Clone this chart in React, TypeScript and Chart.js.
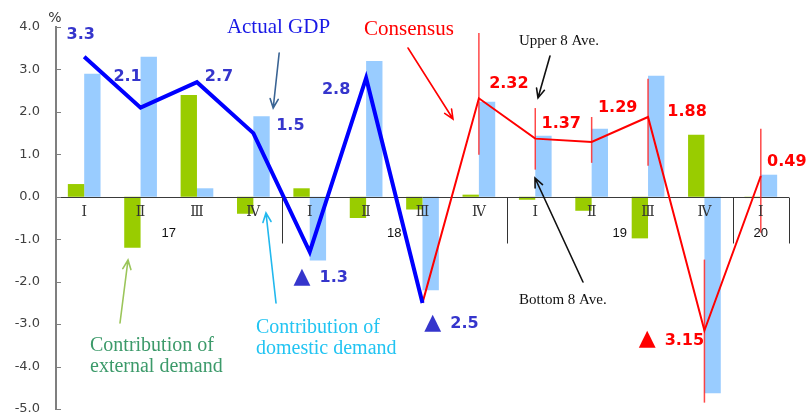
import React, { useEffect, useRef } from 'react';
import { Chart, registerables } from 'chart.js';

Chart.register(...registerables);

// ---------- data ----------
const quarters = ['Ⅰ', 'Ⅱ', 'Ⅲ', 'Ⅳ', 'Ⅰ', 'Ⅱ', 'Ⅲ', 'Ⅳ', 'Ⅰ', 'Ⅱ', 'Ⅲ', 'Ⅳ', 'Ⅰ'];
const years = ['17', '18', '19', '20'];
const quartersPerYear = [4, 4, 4, 1];

const externalDemand = [0.3, -1.2, 2.4, -0.4, 0.2, -0.5, -0.3, 0.05, -0.07, -0.33, -0.98, 1.46, -0.03];
const domesticDemand = [2.9, 3.3, 0.2, 1.9, -1.5, 3.2, -2.2, 2.24, 1.44, 1.6, 2.85, -4.63, 0.52];
const actualGDP = [3.3, 2.1, 2.7, 1.5, -1.3, 2.8, -2.5, null, null, null, null, null, null];
const consensus = [null, null, null, null, null, null, -2.5, 2.32, 1.37, 1.29, 1.88, -3.15, 0.49];
const upper8Ave = [null, null, null, null, null, null, null, 3.86, 2.09, 1.88, 2.78, -1.48, 1.6];
const bottom8Ave = [null, null, null, null, null, null, null, 0.99, 0.64, 0.8, 0.73, -4.85, -0.85];

const yMin = -5;
const yMax = 4;
const yStep = 1;

// ---------- styles (pixel offsets of value labels from their points) ----------
const gdpLabelOffsets: [number, number][] = [
  [-3.5, -22], [-13, -31], [22, -5], [37, -7], [11, 25], [-30, 12], [29, 20],
];
const consensusLabelOffsets: Record<number, [number, number]> = {
  7: [30, -14], 8: [26, -15], 9: [26, -34], 10: [39, -5], 11: [-33, 9], 12: [26, -14],
};

// annotation positions in data space (category index, value)
const textNotes = [
  { lines: ['Actual GDP'], x: 3.446, y: 3.977, color: '#1A1AE6', size: 21, align: 'center' },
  { lines: ['Consensus'], x: 5.76, y: 3.93, color: '#FF0000', size: 21, align: 'center' },
  { lines: ['Upper 8 Ave.'], x: 8.42, y: 3.67, color: '#111111', size: 15, align: 'center' },
  { lines: ['Bottom 8 Ave.'], x: 8.49, y: -2.43, color: '#111111', size: 15, align: 'center' },
  { lines: ['Contribution of', 'external demand'], x: 0.103, y: -3.516, color: '#3C9A6A', size: 20, align: 'left' },
  { lines: ['Contribution of', 'domestic demand'], x: 3.047, y: -3.09, color: '#22C4F2', size: 20, align: 'left' },
];
const arrowNotes = [
  { from: [3.458, 3.388], to: [3.352, 2.091], color: '#3A6494' },
  { from: [5.743, 3.506], to: [6.541, 1.833], color: '#FF0000' },
  { from: [8.261, 3.318], to: [8.048, 2.328], color: '#111111' },
  { from: [8.846, -2.007], to: [7.995, 0.443], color: '#111111' },
  { from: [0.635, -2.974], to: [0.777, -1.49], color: '#9BC55A' },
  { from: [3.402, -2.502], to: [3.224, -0.38], color: '#22B8EE' },
];

const WIDTH = 808;
const HEIGHT = 417;

function drawArrow(ctx: CanvasRenderingContext2D, x1: number, y1: number, x2: number, y2: number, color: string) {
  const ang = Math.atan2(y2 - y1, x2 - x1);
  const head = 10;
  const spread = 0.42;
  ctx.save();
  ctx.strokeStyle = color;
  ctx.lineWidth = 1.6;
  ctx.lineCap = 'round';
  ctx.beginPath();
  ctx.moveTo(x1, y1);
  ctx.lineTo(x2, y2);
  ctx.moveTo(x2 - head * Math.cos(ang - spread), y2 - head * Math.sin(ang - spread));
  ctx.lineTo(x2, y2);
  ctx.lineTo(x2 - head * Math.cos(ang + spread), y2 - head * Math.sin(ang + spread));
  ctx.stroke();
  ctx.restore();
}

function drawValueLabel(ctx: CanvasRenderingContext2D, cx: number, cy: number, value: number, decimals: number, color: string) {
  const num = Math.abs(value).toFixed(decimals);
  const numFont = "bold 16px 'DejaVu Sans'";
  const triFont = "22px 'DejaVu Sans'";
  ctx.save();
  ctx.fillStyle = color;
  ctx.textBaseline = 'middle';
  if (value < 0) {
    ctx.font = triFont;
    const tri = '▲';
    const tw = ctx.measureText(tri).width;
    ctx.font = numFont;
    const nw = ctx.measureText(num).width;
    const gap = 9;
    const sx = cx - (tw + gap + nw) / 2;
    ctx.textAlign = 'left';
    ctx.font = triFont;
    ctx.fillText(tri, sx, cy);
    ctx.font = numFont;
    ctx.fillText(num, sx + tw + gap, cy + 1);
  } else {
    ctx.font = numFont;
    ctx.textAlign = 'center';
    ctx.fillText(num, cx, cy);
  }
  ctx.restore();
}

const decorPlugin = {
  id: 'decor',
  beforeDatasetDraw(chart: any, args: any) {
    if (args.index !== 2) return;
    const { ctx, chartArea, scales } = chart;
    const y0 = Math.round(scales.y.getPixelForValue(0)) + 0.5;
    ctx.save();
    ctx.strokeStyle = '#3A3A3A';
    ctx.lineWidth = 1;
    ctx.beginPath();
    ctx.moveTo(chartArea.left, y0);
    ctx.lineTo(chartArea.right, y0);
    ctx.stroke();
    ctx.restore();
  },
  afterDatasetsDraw(chart: any) {
    const { ctx, chartArea, scales } = chart;
    const xs = scales.x;
    const ys = scales.y;
    const y0 = Math.round(ys.getPixelForValue(0)) + 0.5;

    ctx.save();
    // inward y tick marks
    ctx.strokeStyle = '#7F7F7F';
    ctx.lineWidth = 1;
    for (let v = yMin; v <= yMax; v += yStep) {
      const py = Math.round(ys.getPixelForValue(v)) + 0.5;
      ctx.beginPath();
      ctx.moveTo(chartArea.left, py);
      ctx.lineTo(chartArea.left + 5, py);
      ctx.stroke();
    }
    // % unit
    ctx.fillStyle = '#333333';
    ctx.font = "14px 'DejaVu Sans'";
    ctx.textAlign = 'center';
    ctx.textBaseline = 'middle';
    ctx.fillText('%', chartArea.left - 1, chartArea.top - 9);

    // quarter labels
    ctx.font = "14px 'DejaVu Serif'";
    ctx.fillStyle = '#333333';
    quarters.forEach((q, i) => {
      ctx.fillText(q, xs.getPixelForValue(i), y0 + 15);
    });

    // year labels and separators
    ctx.font = "13px 'Liberation Sans'";
    ctx.fillStyle = '#111111';
    ctx.strokeStyle = '#333333';
    let start = 0;
    years.forEach((yr, k) => {
      const end = start + quartersPerYear[k] - 1;
      const cx = (xs.getPixelForValue(start) + xs.getPixelForValue(end)) / 2;
      ctx.fillText(yr, cx, y0 + 36);
      const sx = Math.round(xs.getPixelForValue(end + 0.5)) + 0.5;
      ctx.beginPath();
      ctx.moveTo(sx, y0);
      ctx.lineTo(sx, y0 + 46);
      ctx.stroke();
      start = end + 1;
    });
    ctx.restore();

    // value labels
    actualGDP.forEach((v, i) => {
      if (v === null || !gdpLabelOffsets[i]) return;
      const [dx, dy] = gdpLabelOffsets[i];
      drawValueLabel(ctx, xs.getPixelForValue(i) + dx, ys.getPixelForValue(v) + dy, v, 1, '#3535CC');
    });
    consensus.forEach((v, i) => {
      const off = consensusLabelOffsets[i];
      if (v === null || !off) return;
      drawValueLabel(ctx, xs.getPixelForValue(i) + off[0], ys.getPixelForValue(v) + off[1], v, 2, '#FF0000');
    });

    // text annotations
    textNotes.forEach((n) => {
      ctx.save();
      ctx.fillStyle = n.color;
      ctx.font = `${n.size}px 'Liberation Serif'`;
      ctx.textAlign = n.align as CanvasTextAlign;
      ctx.textBaseline = 'middle';
      const px = xs.getPixelForValue(n.x);
      const py = ys.getPixelForValue(n.y);
      n.lines.forEach((line, li) => ctx.fillText(line, px, py + li * 21));
      ctx.restore();
    });
    // arrows
    arrowNotes.forEach((a) => {
      drawArrow(
        ctx,
        xs.getPixelForValue(a.from[0]), ys.getPixelForValue(a.from[1]),
        xs.getPixelForValue(a.to[0]), ys.getPixelForValue(a.to[1]),
        a.color,
      );
    });
  },
};

export default function App() {
  const canvasRef = useRef<HTMLCanvasElement | null>(null);

  useEffect(() => {
    document.body.style.margin = '0';
    const canvas = canvasRef.current;
    if (!canvas) return;
    const rangeData = upper8Ave.map((u, i) => (u === null || bottom8Ave[i] === null ? null : [bottom8Ave[i], u]));
    const chart = new Chart(canvas, {
      type: 'bar',
      data: {
        labels: quarters,
        datasets: [
          {
            type: 'line',
            label: 'Actual GDP',
            data: actualGDP,
            borderColor: '#0000FF',
            borderWidth: 4,
            pointRadius: 0,
            tension: 0,
            order: 0,
          } as any,
          {
            type: 'line',
            label: 'Consensus',
            data: consensus,
            borderColor: '#FF0000',
            borderWidth: 2,
            pointRadius: 0,
            tension: 0,
            order: 0,
          } as any,
          {
            type: 'bar',
            label: 'Upper/Bottom 8 Ave.',
            data: rangeData,
            backgroundColor: 'rgba(255,40,40,0.85)',
            borderWidth: 0,
            grouped: false,
            maxBarThickness: 1.5,
            order: 1,
          } as any,
          {
            type: 'bar',
            label: 'Contribution of external demand',
            data: externalDemand,
            backgroundColor: '#99CC00',
            borderWidth: 0,
            categoryPercentage: 0.58,
            barPercentage: 1,
            order: 2,
          },
          {
            type: 'bar',
            label: 'Contribution of domestic demand',
            data: domesticDemand,
            backgroundColor: '#99CCFF',
            borderWidth: 0,
            categoryPercentage: 0.58,
            barPercentage: 1,
            order: 2,
          },
        ],
      },
      options: {
        responsive: true,
        maintainAspectRatio: false,
        animation: false,
        layout: { padding: { left: 0, right: 19, top: 27, bottom: 8 } },
        plugins: { legend: { display: false }, tooltip: { enabled: false } },
        scales: {
          x: { display: false, offset: true },
          y: {
            min: yMin,
            max: yMax,
            afterFit: (scale: any) => { scale.width = 56; },
            ticks: {
              stepSize: yStep,
              padding: 0,
              color: '#404040',
              font: { family: 'DejaVu Sans', size: 13 },
              callback: (v: any) => Number(v).toFixed(1),
            },
            grid: { display: false, drawTicks: true, tickLength: 16 },
            border: { display: true, color: '#7F7F7F', width: 2 },
          },
        },
      },
      plugins: [decorPlugin],
    });
    return () => chart.destroy();
  }, []);

  return (
    <div style={{ position: 'absolute', left: 0, top: 0, width: WIDTH, height: HEIGHT, background: '#fff' }}>
      <canvas ref={canvasRef} style={{ display: 'block' }} />
    </div>
  );
}
